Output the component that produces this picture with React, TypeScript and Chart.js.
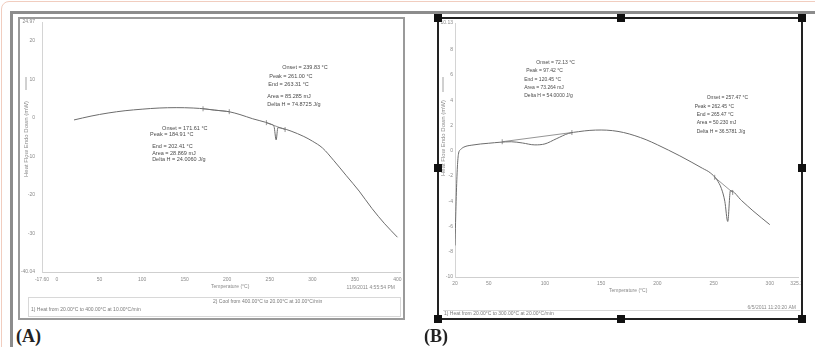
import React, { useEffect, useRef } from "react";
import { Chart, registerables } from "chart.js";

Chart.register(...registerables);

// ---------- Panel A (heat 20 -> 400 °C) ----------
const tempA = [20, 40, 60, 80, 100, 120, 140, 160, 175, 185, 195, 203, 215, 230, 245, 252, 255, 257.5, 259.5, 265, 275, 290, 300, 312, 325, 340, 355, 370, 385, 400];
const heatFlowA = [-0.5, 0.5, 1.3, 1.9, 2.3, 2.6, 2.7, 2.6, 2.35, 2.05, 1.85, 1.6, 0.9, -0.2, -1.1, -1.65, -2.2, -5.7, -2.5, -2.7, -3.4, -4.8, -6.0, -7.8, -11.0, -15.0, -19.0, -23.5, -27.5, -31.0];
const baseA1Temp = [171.6, 202.4];
const baseA1Flow = [2.4, 1.65];
const baseA2Temp = [246, 268];
const baseA2Flow = [-1.2, -3.0];
const xTicksA = [-17.6, 0, 50, 100, 150, 200, 250, 300, 350, 400];
const yTicksA = [-40.04, -30, -20, -10, 0, 10, 20, 24.97];
const notesA = [
  { x: 123.5, y: -2.6, text: "Onset = 171.61 °C" },
  { x: 109.4, y: -4.4, text: "Peak = 184.91 °C" },
  { x: 111.8, y: -7.3, text: "End = 202.41 °C" },
  { x: 111.8, y: -9.1, text: "Area = 28.869 mJ" },
  { x: 111.8, y: -10.7, text: "Delta H = 24.0060 J/g" },
  { x: 264.7, y: 13.2, text: "Onset = 239.83 °C" },
  { x: 249.4, y: 10.9, text: "Peak = 261.00 °C" },
  { x: 248.2, y: 8.6, text: "End = 263.31 °C" },
  { x: 247.0, y: 5.7, text: "Area = 85.285 mJ" },
  { x: 247.0, y: 3.6, text: "Delta H = 74.8725 J/g" },
];

// ---------- Panel B (heat 20 -> 300 °C) ----------
const tempB = [20, 21, 22, 23, 25, 28, 35, 50, 70, 80, 91, 100, 110, 121, 130, 140, 150, 160, 170, 180, 190, 200, 210, 220, 230, 240, 247, 253, 257, 260, 262.6, 265, 275, 285, 300];
const heatFlowB = [-7.5, -4.0, -1.5, -0.3, 0.1, 0.3, 0.45, 0.6, 0.72, 0.62, 0.47, 0.55, 0.95, 1.38, 1.52, 1.62, 1.65, 1.6, 1.45, 1.2, 0.88, 0.48, 0.05, -0.4, -0.88, -1.38, -1.74, -2.3, -3.0, -4.0, -5.6, -3.15, -3.95, -4.75, -5.85];
const baseB1Temp = [62, 124];
const baseB1Flow = [0.72, 1.45];
const baseB2Temp = [251, 267];
const baseB2Flow = [-2.1, -3.3];
const xTicksB = [20, 50, 100, 150, 200, 250, 300, 325.1];
const yTicksB = [-10, -8, -6, -4, -2, 0, 2, 4, 6, 8, 10.13];
const notesB = [
  { x: 92.3, y: 6.96, text: "Onset = 72.13 °C" },
  { x: 83.3, y: 6.32, text: "Peak = 97.42 °C" },
  { x: 81.6, y: 5.61, text: "End = 120.45 °C" },
  { x: 81.6, y: 4.98, text: "Area = 73.264 mJ" },
  { x: 81.6, y: 4.35, text: "Delta H = 54.0000 J/g" },
  { x: 243.9, y: 4.19, text: "Onset = 257.47 °C" },
  { x: 233.2, y: 3.48, text: "Peak = 262.45 °C" },
  { x: 235.0, y: 2.85, text: "End = 265.47 °C" },
  { x: 235.0, y: 2.21, text: "Area = 50.230 mJ" },
  { x: 235.0, y: 1.5, text: "Delta H = 36.5781 J/g" },
];

const pts = (xs: number[], ys: number[]) => xs.map((x, i) => ({ x, y: ys[i] }));
const fmt = (v: number) => (Number.isInteger(v) ? String(v) : v.toFixed(2));

type PanelCfg = {
  w: number;
  h: number;
  xMin: number;
  xMax: number;
  yMin: number;
  yMax: number;
  xTicks: number[];
  yTicks: number[];
  yWidth: number;
  xHeight: number;
  padTop: number;
  padRight: number;
  xTickPad: number;
  yTickPad: number;
  xDash: number[];
  main: { x: number; y: number }[];
  bases: { x: number; y: number }[][];
  notes: { x: number; y: number; text: string }[];
  noteSize: number;
  draw: (ctx: CanvasRenderingContext2D, chart: any) => void;
};

function DscPanel({ cfg }: { cfg: PanelCfg }) {
  const ref = useRef<HTMLCanvasElement>(null);
  useEffect(() => {
    const textPlugin = {
      id: "dscText",
      afterDraw(chart: any) {
        const { ctx } = chart;
        const x = chart.scales.x;
        const y = chart.scales.y;
        ctx.save();
        ctx.fillStyle = "#4a4a4a";
        ctx.textBaseline = "middle";
        ctx.textAlign = "left";
        ctx.font = `${cfg.noteSize}px Arial`;
        cfg.notes.forEach((n) => ctx.fillText(n.text, x.getPixelForValue(n.x), y.getPixelForValue(n.y)));
        cfg.draw(ctx, chart);
        ctx.restore();
      },
    };
    const datasets: any[] = [
      {
        data: cfg.main,
        borderColor: "#6c6c6c",
        borderWidth: 1,
        pointRadius: 0,
        cubicInterpolationMode: "monotone",
      },
      ...cfg.bases.map((b) => ({
        data: b,
        borderColor: "#7a7a7a",
        borderWidth: 0.8,
        pointRadius: 2.5,
        pointStyle: "line",
        rotation: 90,
        pointBorderColor: "#7a7a7a",
        pointBorderWidth: 0.8,
        tension: 0,
      })),
    ];
    const tickFont = { size: 5, family: "Arial" };
    const zeroPad = (s: any) => {
      s.paddingTop = 0;
      s.paddingBottom = 0;
      s.paddingLeft = 0;
      s.paddingRight = 0;
    };
    const chart = new Chart(ref.current as HTMLCanvasElement, {
      type: "line",
      data: { datasets },
      options: {
        animation: false,
        responsive: false,
        maintainAspectRatio: false,
        events: [],
        layout: { autoPadding: false, padding: { top: cfg.padTop, right: cfg.padRight, left: 0, bottom: 0 } },
        plugins: { legend: { display: false }, tooltip: { enabled: false } },
        scales: {
          x: {
            type: "linear",
            min: cfg.xMin,
            max: cfg.xMax,
            afterBuildTicks: (s: any) => {
              s.ticks = cfg.xTicks.map((v) => ({ value: v }));
            },
            afterFit: (s: any) => {
              s.height = cfg.xHeight;
              zeroPad(s);
            },
            grid: { display: false, drawTicks: false },
            border: { display: true, color: "#cfcfcf", width: 1, dash: cfg.xDash },
            ticks: {
              font: tickFont,
              color: "#8a8a8a",
              padding: cfg.xTickPad,
              maxRotation: 0,
              autoSkip: false,
              callback: (v: any) => fmt(Number(v)),
            },
          },
          y: {
            type: "linear",
            min: cfg.yMin,
            max: cfg.yMax,
            afterBuildTicks: (s: any) => {
              s.ticks = cfg.yTicks.map((v) => ({ value: v }));
            },
            afterFit: (s: any) => {
              s.width = cfg.yWidth;
              zeroPad(s);
            },
            grid: { display: false, drawTicks: false },
            border: { display: true, color: "#d4d4d4", width: 1 },
            ticks: {
              font: tickFont,
              color: "#8a8a8a",
              padding: cfg.yTickPad,
              autoSkip: false,
              callback: (v: any) => fmt(Number(v)),
            },
          },
        },
      } as any,
      plugins: [textPlugin],
    });
    return () => chart.destroy();
  }, []);
  return <canvas ref={ref} width={cfg.w} height={cfg.h} style={{ display: "block", width: cfg.w, height: cfg.h }} />;
}

function drawYTitle(ctx: CanvasRenderingContext2D, cx: number, cy: number, l0: number, l1: number, text: string) {
  ctx.save();
  ctx.strokeStyle = "#8a8a8a";
  ctx.lineWidth = 0.8;
  ctx.beginPath();
  ctx.moveTo(cx, l0);
  ctx.lineTo(cx, l1);
  ctx.stroke();
  ctx.translate(cx, cy);
  ctx.rotate(-Math.PI / 2);
  ctx.fillStyle = "#8a8a8a";
  ctx.font = "6px Arial";
  ctx.textAlign = "center";
  ctx.textBaseline = "middle";
  ctx.fillText(text, 0, 0);
  ctx.restore();
}

const cfgA: PanelCfg = {
  w: 383,
  h: 299,
  xMin: -17.6,
  xMax: 403,
  yMin: -40.04,
  yMax: 24.97,
  xTicks: xTicksA,
  yTicks: yTicksA,
  yWidth: 22,
  xHeight: 46,
  padTop: 3,
  padRight: 3,
  xTickPad: 5,
  yTickPad: 7,
  xDash: [],
  main: pts(tempA, heatFlowA),
  bases: [pts(baseA1Temp, baseA1Flow), pts(baseA2Temp, baseA2Flow)],
  notes: notesA,
  noteSize: 5.5,
  draw: (ctx, chart) => {
    const ca = chart.chartArea;
    drawYTitle(ctx, 6, 120, 58, 71, "Heat Flow Endo Down (mW)");
    ctx.fillStyle = "#8a8a8a";
    ctx.font = "5px Arial";
    ctx.textAlign = "center";
    ctx.textBaseline = "middle";
    ctx.fillText("Temperature (°C)", chart.scales.x.getPixelForValue(203.5), ca.bottom + 15);
    ctx.textAlign = "right";
    ctx.fillText("11/9/2011 4:55:54 PM", 375, 269);
    ctx.strokeStyle = "#d8d8d8";
    ctx.lineWidth = 1;
    ctx.strokeRect(8.5, 278.5, 372, 19);
    ctx.textAlign = "left";
    ctx.fillStyle = "#7a7a7a";
    ctx.fillText("1) Heat from 20.00°C to 400.00°C at 10.00°C/min", 11, 291);
    ctx.fillText("2) Cool from 400.00°C to 20.00°C at 10.00°C/min", 193, 283);
  },
};

const cfgB: PanelCfg = {
  w: 362,
  h: 299,
  xMin: 20,
  xMax: 325.1,
  yMin: -10,
  yMax: 10.13,
  xTicks: xTicksB,
  yTicks: yTicksB,
  yWidth: 16,
  xHeight: 41,
  padTop: 4,
  padRight: 3,
  xTickPad: 4,
  yTickPad: 2,
  xDash: [2, 2],
  main: pts(tempB, heatFlowB),
  bases: [pts(baseB1Temp, baseB1Flow), pts(baseB2Temp, baseB2Flow)],
  notes: notesB,
  noteSize: 5,
  draw: (ctx, chart) => {
    const ca = chart.chartArea;
    drawYTitle(ctx, 4, 119, 58, 73, "Heat Flow Endo Down (mW)");
    ctx.fillStyle = "#8a8a8a";
    ctx.font = "5px Arial";
    ctx.textAlign = "center";
    ctx.textBaseline = "middle";
    ctx.fillText("Temperature (°C)", chart.scales.x.getPixelForValue(174), ca.bottom + 14);
    ctx.textAlign = "right";
    ctx.fillText("6/5/2011 11:20:20 AM", 357, 289);
    ctx.strokeStyle = "#d8d8d8";
    ctx.lineWidth = 1;
    ctx.beginPath();
    ctx.moveTo(4, 291.5);
    ctx.lineTo(361, 291.5);
    ctx.stroke();
    ctx.textAlign = "left";
    ctx.fillStyle = "#7a7a7a";
    ctx.fillText("1) Heat from 20.00°C to 300.00°C at 20.00°C/min", 5, 295);
  },
};

const handle = (x: number, y: number) => (
  <div
    key={`${x}-${y}`}
    style={{ position: "absolute", left: x - 4, top: y - 4, width: 8, height: 8, background: "#111" }}
  />
);

export default function App() {
  return (
    <div style={{ position: "absolute", left: 0, top: 0, width: 815, height: 347, background: "#fff", overflow: "hidden" }}>
      <div style={{ position: "absolute", left: 1, top: 1, width: 830, height: 360, border: "1px solid #f1cdbf", borderRadius: 8 }} />
      <div style={{ position: "absolute", left: 10, top: 11, width: 805, height: 0, borderTop: "3px solid #8c8c8c" }} />
      <div style={{ position: "absolute", left: 10, top: 11, width: 0, height: 340, borderLeft: "3px solid #8c8c8c" }} />
      <div style={{ position: "absolute", left: 18, top: 17, width: 383, height: 299, border: "2px solid #9a9a9a" }}>
        <DscPanel cfg={cfgA} />
      </div>
      <div style={{ position: "absolute", left: 437, top: 17, width: 362, height: 299, border: "2px solid #222" }}>
        <DscPanel cfg={cfgB} />
      </div>
      {[
        [438, 18],
        [621, 18],
        [802, 18],
        [438, 168],
        [802, 168],
        [438, 319],
        [621, 319],
        [802, 319],
      ].map(([x, y]) => handle(x, y))}
      <div
        style={{
          position: "absolute",
          left: 16,
          top: 326,
          fontFamily: "'Liberation Serif', 'DejaVu Serif', serif",
          fontWeight: "bold",
          fontSize: 18,
          lineHeight: "20px",
          color: "#222",
        }}
      >
        (A)
      </div>
      <div
        style={{
          position: "absolute",
          left: 424,
          top: 326,
          fontFamily: "'Liberation Serif', 'DejaVu Serif', serif",
          fontWeight: "bold",
          fontSize: 18,
          lineHeight: "20px",
          color: "#222",
        }}
      >
        (B)
      </div>
    </div>
  );
}
